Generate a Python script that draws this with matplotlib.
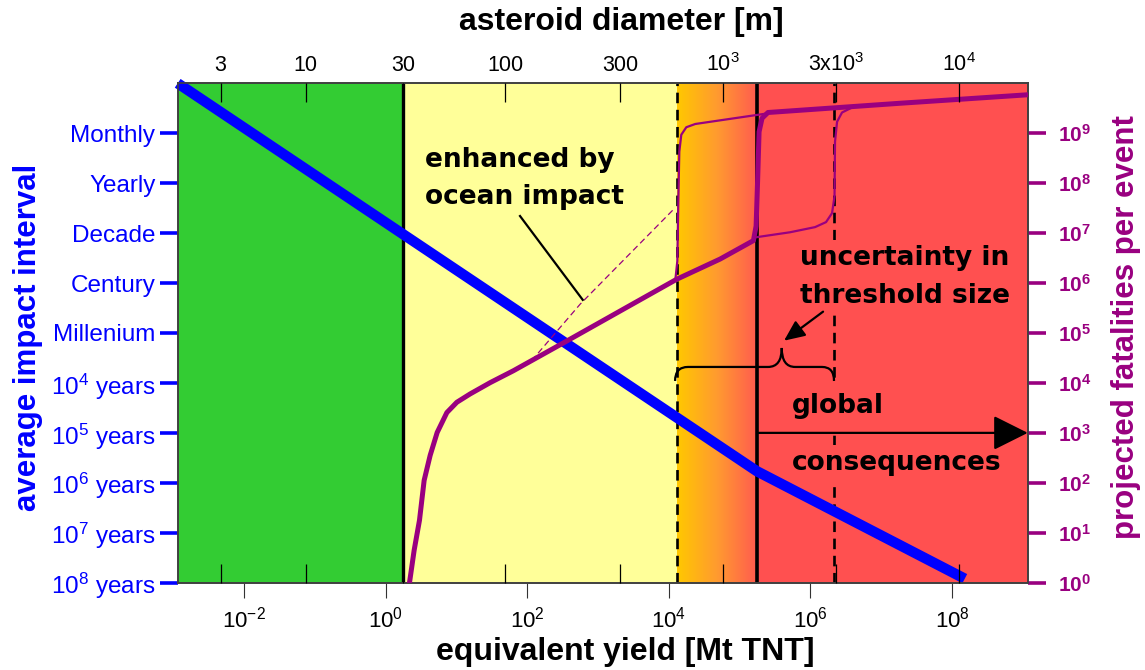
import numpy as np
import matplotlib
matplotlib.use('Agg')
import matplotlib.pyplot as plt
from matplotlib.colors import LinearSegmentedColormap
from matplotlib.path import Path
from matplotlib.patches import PathPatch
from matplotlib.ticker import NullLocator

plt.rcParams['font.family'] = ['Liberation Sans', 'DejaVu Sans']
plt.rcParams['mathtext.fontset'] = 'custom'
plt.rcParams['mathtext.rm'] = 'Liberation Sans'
plt.rcParams['mathtext.it'] = 'Liberation Sans:italic'
plt.rcParams['mathtext.bf'] = 'Liberation Sans:bold'
plt.rcParams['mathtext.default'] = 'rm'

# --- axis ranges / ticks ---
x_log_range = (-2.94, 9.07)                      # equivalent yield [Mt], log10
yield_ticks = [1e-2, 1e0, 1e2, 1e4, 1e6, 1e8]
yield_labels = [r'$10^{-2}$', r'$10^{0}$', r'$10^{2}$', r'$10^{4}$', r'$10^{6}$', r'$10^{8}$']

# asteroid diameter axis (top), placed at the yield it corresponds to
diam_labels = ['3', '10', '30', '100', '300', r'$10^{3}$', r'3x$10^{3}$', r'$10^{4}$']
diam_yield_log = [-2.335, -1.134, 0.25, 1.686, 3.31, 4.766, 6.36, 8.10]

interval_ticks = [1e-1, 1e0, 1e1, 1e2, 1e3, 1e4, 1e5, 1e6, 1e7, 1e8]
interval_labels = ['Monthly', 'Yearly', 'Decade', 'Century', 'Millenium',
                   r'$10^{4}$ years', r'$10^{5}$ years', r'$10^{6}$ years',
                   r'$10^{7}$ years', r'$10^{8}$ years']

fatal_ticks = [10.0 ** k for k in range(10)]
fatal_labels = [r'$\mathbf{10^{%d}}$' % k for k in range(10)]

# zone boundaries (yield, log10): local / regional / threshold start / global
zone_log = [0.25, 4.11, 5.25, 6.33]

# --- series ---
# average impact interval vs yield
impact_yield_log = [-2.94, 5.246, 8.18]
impact_interval_log = [-2.0, 5.77, 7.92]

# projected fatalities, nominal threshold
main_yield_log = [0.335, 0.401, 0.476, 0.542, 0.627, 0.726, 0.863, 1.004, 1.192, 1.475,
                  1.804, 2.558, 3.311, 4.11, 4.723, 5.194, 5.232, 5.253, 5.274, 5.316,
                  5.40, 7.266, 9.07]
main_fatal_log = [0.0, 0.653, 1.25, 2.05, 2.55, 3.008, 3.407, 3.613, 3.78, 4.006,
                  4.245, 4.84, 5.44, 6.076, 6.48, 6.85, 7.14, 8.04, 9.03, 9.30,
                  9.415, 9.60, 9.77]

# low threshold variant
low_yield_log = [4.09, 4.119, 4.133, 4.147, 4.175, 4.246, 4.373, 5.383]
low_fatal_log = [6.05, 6.44, 7.64, 8.63, 8.97, 9.12, 9.185, 9.395]

# high threshold variant
high_yield_log = [5.246, 5.712, 6.065, 6.22, 6.305, 6.34, 6.347, 6.376, 6.446, 6.588]
high_fatal_log = [6.92, 7.017, 7.12, 7.22, 7.40, 7.74, 8.83, 9.23, 9.415, 9.515]

# enhanced by ocean impact
ocean_yield_log = [2.06, 2.746, 4.064]
ocean_fatal_log = [4.445, 5.577, 7.473]

GREEN = '#33CC33'
YELLOW = '#FFFF99'
RED = '#FF5050'
BLUE = '#0000FF'
PURPLE = '#990080'

fig = plt.figure(figsize=(11.45, 6.7), dpi=100)
ax = fig.add_axes([0.1552, 0.1303, 0.7424, 0.7454])
ax.set_xscale('log')
ax.set_yscale('log')

xlo, xhi = 10 ** x_log_range[0], 10 ** x_log_range[1]
zones = [10 ** v for v in zone_log]


def xfrac(v):
    return (np.log10(v) - x_log_range[0]) / (x_log_range[1] - x_log_range[0])


# background zones
ax.axvspan(xlo, zones[0], color=GREEN, lw=0, zorder=0)
ax.axvspan(zones[0], zones[1], color=YELLOW, lw=0, zorder=0)
ax.axvspan(zones[2], xhi, color=RED, lw=0, zorder=0)
grad_cmap = LinearSegmentedColormap.from_list('thr', ['#FFC800', '#FF9A30', '#FF5A50'])
ax.imshow(np.linspace(0, 1, 256)[None, :], extent=(xfrac(zones[1]), xfrac(zones[2]), 0, 1),
          transform=ax.transAxes, aspect='auto', cmap=grad_cmap, zorder=0)

ax.set_xlim(xlo, xhi)
ax.set_ylim(1e8, 1e-2)

# zone lines
ax.axvline(zones[0], color='k', lw=2.4, zorder=2)
ax.axvline(zones[1], color='k', lw=1.9, ls=(0, (4, 2.5)), zorder=2)
ax.axvline(zones[2], color='k', lw=2.6, zorder=2)
ax.axvline(zones[3], color='k', lw=1.9, ls=(0, (4, 2.5)), zorder=2)

ax.plot(10 ** np.array(impact_yield_log), 10 ** np.array(impact_interval_log),
        color=BLUE, lw=7.5, solid_capstyle='butt', zorder=3, clip_on=False)

# bottom (yield) axis
ax.set_xticks(yield_ticks, labels=yield_labels)
ax.xaxis.set_minor_locator(NullLocator())
ax.tick_params(axis='x', which='major', direction='out', length=11, width=0.8,
               color='#333333', labelsize=16, pad=6, top=False)

# left (interval) axis
ax.set_yticks(interval_ticks, labels=interval_labels)
ax.yaxis.set_minor_locator(NullLocator())
ax.tick_params(axis='y', which='major', direction='out', length=13, width=2.6,
               color=BLUE, labelcolor=BLUE, labelsize=17.5, pad=3, right=False)

for sp in ax.spines.values():
    sp.set_color('#404040')
    sp.set_linewidth(1.2)

# right (fatalities) axis
ax2 = ax.twinx()
ax2.set_yscale('log')
ax2.set_ylim(1, 1e10)
ax2.set_yticks(fatal_ticks, labels=fatal_labels)
ax2.yaxis.set_minor_locator(NullLocator())
ax2.tick_params(axis='y', which='major', direction='out', length=13, width=2.6,
                color=PURPLE, labelcolor=PURPLE, labelsize=15, pad=9)
for sp in ax2.spines.values():
    sp.set_color('#404040')
    sp.set_linewidth(1.2)

ax2.plot(10 ** np.array(ocean_yield_log), 10 ** np.array(ocean_fatal_log),
         color=PURPLE, lw=0.9, ls=(0, (5, 3)), zorder=3)
ax2.plot(10 ** np.array(low_yield_log), 10 ** np.array(low_fatal_log),
         color=PURPLE, lw=1.6, zorder=3)
ax2.plot(10 ** np.array(high_yield_log), 10 ** np.array(high_fatal_log),
         color=PURPLE, lw=1.6, zorder=3)
ax2.plot(10 ** np.array(main_yield_log), 10 ** np.array(main_fatal_log),
         color=PURPLE, lw=3.6, zorder=3, solid_joinstyle='round')

# top (diameter) axis, ticks pointing inwards at top and bottom
ax3 = ax.twiny()
ax3.set_xscale('log')
ax3.set_xlim(xlo, xhi)
d_ticks = [10 ** v for v in diam_yield_log]
ax3.set_xticks(d_ticks, labels=diam_labels)
ax3.xaxis.set_minor_locator(NullLocator())
ax3.tick_params(axis='x', which='major', direction='in', length=13.5, width=0.9,
                color='k', labelsize=15.5, pad=5, top=True, bottom=True,
                labeltop=True, labelbottom=False)
for sp in ax3.spines.values():
    sp.set_visible(False)

# annotations
ann_font = dict(family='DejaVu Sans', weight='bold', size=19, color='k')
T = ax2.transAxes
ax2.text(0.291, 0.833, 'enhanced by', transform=T, ha='left', va='baseline', **ann_font)
ax2.text(0.291, 0.7583, 'ocean impact', transform=T, ha='left', va='baseline', **ann_font)
ax2.plot([0.4027, 0.4765], [0.7342, 0.5663], transform=T, color='k', lw=1.6, zorder=5)

box = dict(facecolor=RED, edgecolor='none', boxstyle='square,pad=0.2')
ax2.text(0.8556, 0.6362, 'uncertainty in', transform=T, ha='center', va='baseline',
         bbox=box, zorder=4, **ann_font)
ax2.text(0.8556, 0.5595, 'threshold size', transform=T, ha='center', va='baseline',
         bbox=box, zorder=4, **ann_font)
ax2.text(0.7224, 0.3398, 'global', transform=T, ha='left', va='baseline',
         bbox=dict(facecolor=RED, edgecolor='none', boxstyle='square,pad=0.55'),
         zorder=4, **ann_font)
ax2.text(0.7224, 0.2257, 'consequences', transform=T, ha='left', va='baseline',
         bbox=box, zorder=4, **ann_font)

ax2.annotate('', xy=(0.7133, 0.4846), xytext=(0.7592, 0.5427), xycoords=T, textcoords=T,
             arrowprops=dict(arrowstyle='-|>,head_length=0.9,head_width=0.4', color='k',
                             lw=1.6, mutation_scale=14, shrinkA=0, shrinkB=0), zorder=6)
ax2.annotate('', xy=(xhi, 1e3), xytext=(zones[2], 1e3),
             arrowprops=dict(arrowstyle='-|>,head_length=1.0,head_width=0.5', color='k',
                             lw=1.6, mutation_scale=21.6, shrinkA=0, shrinkB=0),
             zorder=6, annotation_clip=False)

brace_pts = [(0.5851, 0.4039), (0.5851, 0.4320), (0.6003, 0.4320), (0.6945, 0.4320),
             (0.7106, 0.4320), (0.7106, 0.4700), (0.7106, 0.4320), (0.7263, 0.4320),
             (0.7580, 0.4320), (0.7721, 0.4320), (0.7721, 0.4039)]
brace_codes = [Path.MOVETO, Path.CURVE3, Path.CURVE3, Path.LINETO, Path.CURVE3, Path.CURVE3,
               Path.CURVE3, Path.CURVE3, Path.LINETO, Path.CURVE3, Path.CURVE3]
ax2.add_patch(PathPatch(Path(brace_pts, brace_codes), transform=T, fill=False,
                        edgecolor='k', lw=1.6, zorder=6))

# axis titles
fig.text(621 / 1145, 1 - 22 / 670, 'asteroid diameter [m]', ha='center', va='center',
         fontsize=23, fontweight='bold')
fig.text(625 / 1145, 1 - 652 / 670, 'equivalent yield [Mt TNT]', ha='center', va='center',
         fontsize=23, fontweight='bold')
fig.text(28 / 1145, 1 - 337 / 670, 'average impact interval', ha='center', va='center',
         rotation=90, fontsize=22.5, fontweight='bold', color=BLUE)
fig.text(1126 / 1145, 1 - 327 / 670, 'projected fatalities per event', ha='center',
         va='center', rotation=90, fontsize=22.5, fontweight='bold', color=PURPLE)

fig.savefig('out.png', dpi=100)
